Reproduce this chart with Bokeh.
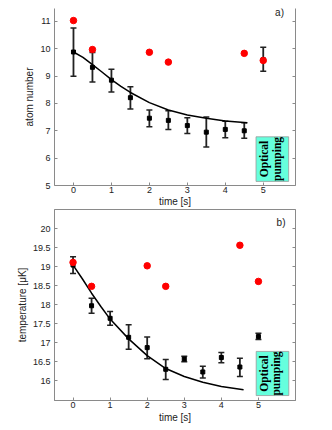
import math
from bokeh.plotting import figure
from bokeh.layouts import column
from bokeh.models import (ColumnDataSource, LinearAxis, FixedTicker, Whisker,
                          TeeHead, Label, CustomJSTickFormatter)
from bokeh.core.properties import value
from bokeh.embed import file_html
from bokeh.resources import INLINE

# ---------------- data ----------------
time_s = [0, 0.5, 1, 1.5, 2, 2.5, 3, 3.5, 4, 4.5, 5]

atom_mean = [9.88, 9.32, 8.85, 8.21, 7.46, 7.38, 7.19, 6.95, 7.05, 7.00, 9.60]
atom_lo = [8.99, 8.78, 8.42, 7.80, 7.15, 7.05, 6.90, 6.41, 6.75, 6.73, 9.18]
atom_hi = [10.76, 9.86, 9.25, 8.61, 7.76, 7.73, 7.48, 7.50, 7.35, 7.29, 10.05]

red_time = [0, 0.5, 2, 2.5, 4.5, 5]
atom_red = [11.03, 9.97, 9.87, 9.51, 9.83, 9.57]

fit_time_a = [0, 0.25, 0.5, 0.75, 1, 1.25, 1.5, 2, 2.5, 3, 3.5, 4, 4.58]
fit_atom = [9.88, 9.68, 9.42, 9.15, 8.87, 8.62, 8.40, 8.03, 7.76, 7.58, 7.46, 7.36, 7.29]

temp_mean = [19.04, 17.97, 17.64, 17.14, 16.87, 16.30, 16.57, 16.23, 16.61, 16.36, 17.16]
temp_lo = [18.82, 17.77, 17.46, 16.83, 16.58, 16.03, 16.50, 16.07, 16.47, 16.11, 17.08]
temp_hi = [19.26, 18.17, 17.82, 17.47, 17.15, 16.56, 16.64, 16.38, 16.74, 16.59, 17.25]

temp_red = [19.11, 18.48, 19.02, 18.48, 19.56, 18.61]

fit_time_b = [0, 0.25, 0.5, 0.75, 1, 1.5, 2, 2.5, 3, 3.5, 4, 4.6]
fit_temp = [19.04, 18.68, 18.30, 17.95, 17.62, 17.10, 16.66, 16.32, 16.11, 15.96, 15.85, 15.76]

x_ticks = [0, 1, 2, 3, 4, 5]
atom_ticks = [5, 6, 7, 8, 9, 10, 11]
temp_ticks = [16, 16.5, 17, 17.5, 18, 18.5, 19, 19.5, 20]

box_label = ["Optical", "pumping"]

# ---------------- styling ----------------
AX_COL = "#8a8a8a"
LBL_FONT = "Liberation Sans"


def style_axis(ax, labels=True, label_standoff=3, title_standoff=2):
    ax.axis_line_color = AX_COL
    ax.axis_line_width = 1
    ax.major_tick_line_color = AX_COL
    ax.major_tick_in = 3
    ax.major_tick_out = 0
    ax.minor_tick_line_color = None
    ax.minor_tick_in = 0
    ax.minor_tick_out = 0
    if labels:
        ax.major_label_text_font = LBL_FONT
        ax.major_label_text_font_size = "9px"
        ax.major_label_text_color = "#222222"
        ax.major_label_standoff = label_standoff
        ax.axis_label_text_font = LBL_FONT
        ax.axis_label_text_font_size = "10px"
        ax.axis_label_text_font_style = "normal"
        ax.axis_label_text_color = "#222222"
        ax.axis_label_standoff = title_standoff
    else:
        ax.major_label_text_font_size = "0px"
        ax.major_label_text_color = None
        ax.major_label_standoff = 0


fmt = CustomJSTickFormatter(code="return tick.toString();")


def make_fig(xr, yr, fh, yticks, ylabel, top_border, x_std, x_title_std):
    p = figure(frame_width=241, frame_height=fh, x_range=xr, y_range=yr,
               output_backend="svg", toolbar_location=None,
               x_axis_location=None, y_axis_location=None,
               min_border_left=54, min_border_right=20,
               min_border_top=top_border, min_border_bottom=22)
    p.outline_line_color = None
    p.grid.grid_line_color = None
    p.background_fill_color = "white"
    p.border_fill_color = "white"

    left = LinearAxis(ticker=FixedTicker(ticks=yticks), formatter=fmt,
                      axis_label=ylabel)
    style_axis(left, True, 4)
    p.add_layout(left, "left")

    right = LinearAxis(ticker=FixedTicker(ticks=yticks))
    style_axis(right, False)
    p.add_layout(right, "right")

    below = LinearAxis(ticker=FixedTicker(ticks=x_ticks), formatter=fmt,
                       axis_label="time [s]")
    style_axis(below, True, x_std, x_title_std)
    p.add_layout(below, "below")
    return p


def draw(p, mean, lo, hi, red, fit_t, fit_v, box, txt_x, txt_y, tag, tag_xy):
    # optical pumping box
    p.quad(left=[box[0]], right=[box[1]], bottom=[box[2]], top=[box[3]],
           fill_color="#66ffdd", line_color="#999999", line_width=0.8)
    p.text(x=txt_x, y=[txt_y, txt_y], text=box_label, angle=math.pi / 2,
           text_align="center", text_baseline="middle",
           text_font=value("Liberation Serif"), text_font_style="bold",
           text_font_size="11.5px", text_color="black")

    src = ColumnDataSource(dict(t=time_s, mean=mean, lo=lo, hi=hi))
    w = Whisker(source=src, base="t", upper="hi", lower="lo",
                line_color="#222222", line_width=1.8,
                upper_head=TeeHead(size=6, line_color="#222222", line_width=1.5),
                lower_head=TeeHead(size=6, line_color="#222222", line_width=1.5))
    p.add_layout(w)
    p.line(fit_t, fit_v, line_color="black", line_width=1.5)
    p.scatter("t", "mean", source=src, marker="square", size=4,
              color="black")
    p.scatter(red_time, red, size=6.5, color="red", line_color="red")

    p.add_layout(Label(x=tag_xy[0], y=tag_xy[1], text=tag,
                       text_font=LBL_FONT, text_font_size="10px",
                       text_align="center", text_baseline="middle",
                       text_color="#222222"))


p1 = make_fig((-0.5, 5.85), (5, 11.47), 177, atom_ticks, "atom number", 8, 1, 0)
draw(p1, atom_mean, atom_lo, atom_hi, atom_red, fit_time_a, fit_atom,
     (4.81, 5.67, 5.15, 6.78), [5.03, 5.37], 5.97, "a)", (5.43, 11.33))

p2 = make_fig((-0.5, 6.0), (15.48, 20.5), 191, temp_ticks,
              "temperature [μK]", 0, 1, 1)
p2.outline_line_color = AX_COL
p2.outline_line_width = 1
draw(p2, temp_mean, temp_lo, temp_hi, temp_red, fit_time_b, fit_temp,
     (4.94, 5.82, 15.61, 16.77), [5.14, 5.47], 16.19, "b)", (5.61, 20.17))

layout = column(p1, p2, spacing=0)
open("out.html", "w").write(file_html(layout, INLINE))
